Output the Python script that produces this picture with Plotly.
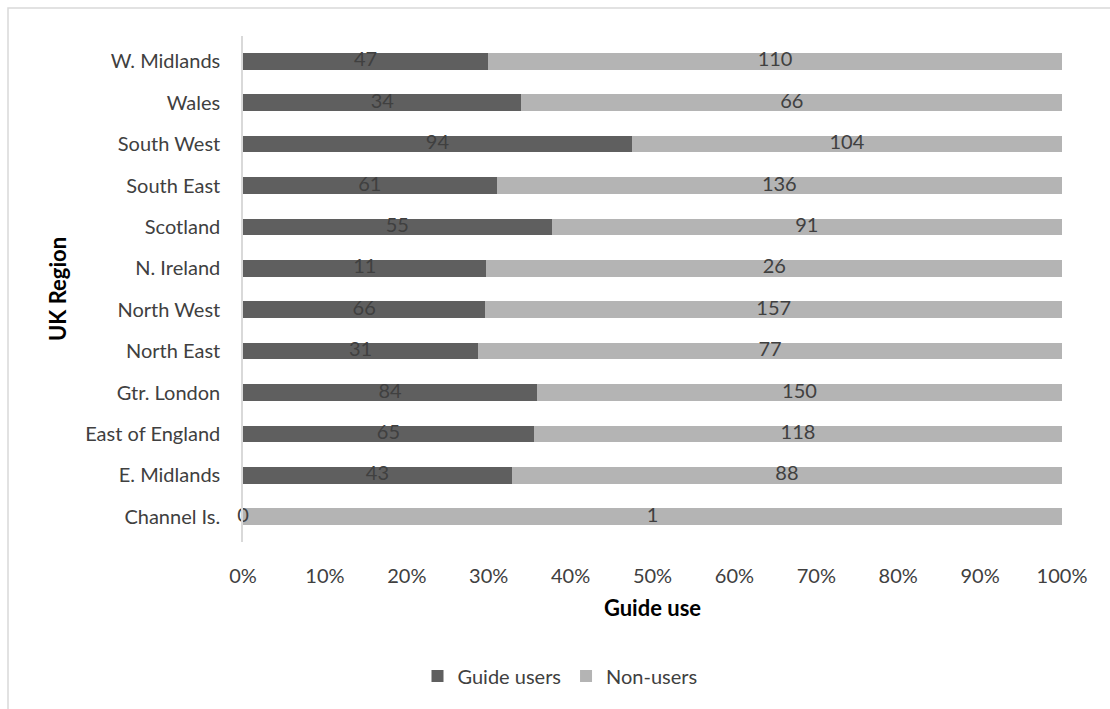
import plotly.graph_objects as go

regions = ["Channel Is.", "E. Midlands", "East of England", "Gtr. London", "North East",
           "North West", "N. Ireland", "Scotland", "South East", "South West", "Wales",
           "W. Midlands"]
guide_users = [0, 43, 65, 84, 31, 66, 11, 55, 61, 94, 34, 47]
non_users = [1, 88, 118, 150, 77, 157, 26, 91, 136, 104, 66, 110]
x_ticks = [0, 10, 20, 30, 40, 50, 60, 70, 80, 90, 100]
x_tick_labels = [f"{t}%" for t in x_ticks]

FONT = "Lato, 'Open Sans', sans-serif"
DARK = "#5f5f5f"
LIGHT = "#b4b4b4"
LABEL = "#404040"
FS = 20

totals = [g + n for g, n in zip(guide_users, non_users)]
guide_pct = [100 * g / t for g, t in zip(guide_users, totals)]
non_pct = [100 * n / t for n, t in zip(non_users, totals)]

fig = go.Figure()
fig.add_trace(go.Bar(y=regions, x=guide_pct, orientation="h", name="Guide users",
                     marker=dict(color=DARK, line=dict(width=0)), hoverinfo="skip"))
fig.add_trace(go.Bar(y=regions, x=non_pct, orientation="h", name="Non-users",
                     marker=dict(color=LIGHT, line=dict(width=0)), hoverinfo="skip"))

# count labels centred in each segment
fig.add_trace(go.Scatter(y=regions, x=[p / 2 for p in guide_pct], mode="text",
                         text=[str(v) for v in guide_users], showlegend=False,
                         cliponaxis=False,
                         textfont=dict(family=FONT, size=FS, color=LABEL), hoverinfo="skip"))
fig.add_trace(go.Scatter(y=regions, x=[g + n / 2 for g, n in zip(guide_pct, non_pct)],
                         mode="text", text=[str(v) for v in non_users], showlegend=False,
                         cliponaxis=False,
                         textfont=dict(family=FONT, size=FS, color=LABEL), hoverinfo="skip"))

W, H = 1110, 709
L, R, T, B = 243, 48, 36, 167
pw, ph = W - L - R, H - T - B

fig.update_layout(
    width=W, height=H,
    barmode="stack", bargap=0.6,
    paper_bgcolor="white", plot_bgcolor="white",
    margin=dict(l=L, r=R, t=T, b=B),
    font=dict(family=FONT, size=FS, color="#404040"),
    xaxis=dict(range=[0, 100], tickvals=x_ticks, ticktext=x_tick_labels,
               showgrid=False, zeroline=False, showline=False, ticks="",
               tickfont=dict(size=FS, color="#404040"), ticklabelstandoff=20,
               title=dict(text="<b>Guide use</b>", font=dict(size=22, color="#000000"),
                          standoff=14)),
    yaxis=dict(showgrid=False, zeroline=False, showline=True, linecolor="#d9d9d9",
               linewidth=1.5, ticks="", tickfont=dict(size=FS, color="#404040"),
               ticklabelstandoff=17,
               title=dict(text="<b>UK Region</b>", font=dict(size=22, color="#000000"),
                          standoff=12)),
    legend=dict(orientation="h", x=(560 - L) / pw, xanchor="center",
                y=(T + ph - 676) / ph, yanchor="middle",
                font=dict(size=FS, color="#404040"), traceorder="normal"),
    shapes=[dict(type="rect", xref="paper", yref="paper",
                 x0=(8 - L) / pw, x1=(1120 - L) / pw,
                 y0=(T + ph - 720) / ph, y1=(T + ph - 8) / ph,
                 line=dict(color="#d9d9d9", width=1.5), fillcolor="rgba(0,0,0,0)",
                 layer="below")],
)

fig.write_html("out.html")
